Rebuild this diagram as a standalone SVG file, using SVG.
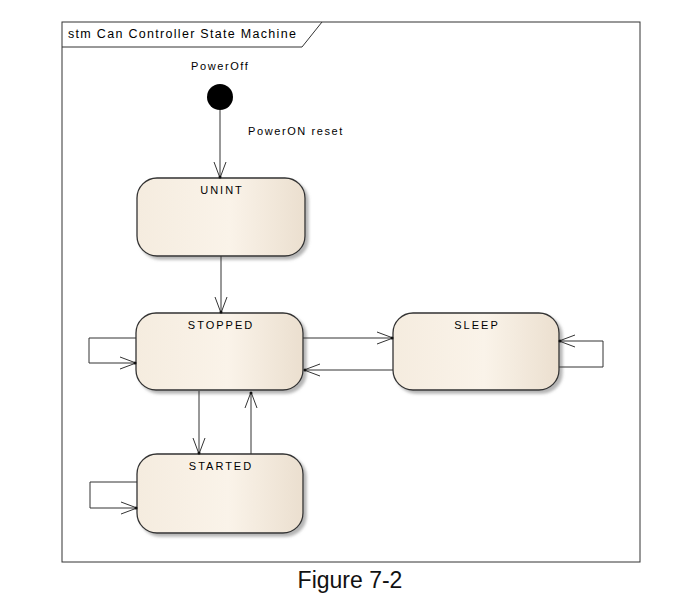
<svg xmlns="http://www.w3.org/2000/svg" width="697" height="606" viewBox="0 0 697 606">
<style>
.frame{fill:none;stroke:#333;stroke-width:1}
.state{fill:url(#sg);stroke:#333;stroke-width:1.3;filter:url(#sh)}
.conn{fill:none;stroke:#333;stroke-width:1}
.sn{font-family:"Liberation Sans",Arial,sans-serif;font-size:11px;letter-spacing:2px;fill:#000;text-anchor:middle}
.lbl{font-family:"Liberation Sans",Arial,sans-serif;font-size:11px;letter-spacing:1.6px;fill:#000}
.title{font-family:"Liberation Sans",Arial,sans-serif;font-size:12.5px;letter-spacing:1.3px;fill:#000}
.cap{font-family:"Liberation Sans",Arial,sans-serif;font-size:23px;fill:#111;text-anchor:middle}
</style>
<defs>
<linearGradient id="sg" x1="0" y1="0" x2="1" y2="0">
<stop offset="0" stop-color="#f5ecdf"/>
<stop offset="0.55" stop-color="#faf3e9"/>
<stop offset="1" stop-color="#ebdfcf"/>
</linearGradient>
<filter id="sh" x="-10%" y="-10%" width="125%" height="130%">
<feDropShadow dx="3" dy="3" stdDeviation="1.5" flood-color="#777" flood-opacity="0.55"/>
</filter>
<marker id="ah" markerUnits="userSpaceOnUse" markerWidth="20" markerHeight="16" viewBox="-18 -8 20 16" refX="0" refY="0" orient="auto">
<path d="M-16,-6 L0,0 L-16,6" fill="none" stroke="#333" stroke-width="1"/>
<circle cx="-1" cy="0" r="1.5" fill="#111"/>
</marker>
</defs>
<rect width="697" height="606" fill="#fff"/>
<g id="frame">
<rect class="frame" x="62" y="22" width="578" height="540"/>
<path class="frame" d="M62,47 H302 L322,22"/>
<text class="title" x="68" y="38">stm Can Controller State Machine</text>
</g>
<g id="initial">
<text class="lbl" x="191" y="70">PowerOff</text>
<circle cx="220" cy="97" r="13" fill="#000"/>
</g>
<g id="UNINT">
<rect class="state" x="137" y="178" width="168" height="78" rx="20" ry="20"/>
<text class="sn" x="222" y="194">UNINT</text>
</g>
<g id="STOPPED">
<rect class="state" x="136" y="313" width="167" height="77" rx="20" ry="20"/>
<text class="sn" x="221" y="329">STOPPED</text>
</g>
<g id="SLEEP">
<rect class="state" x="393" y="313" width="166" height="77" rx="20" ry="20"/>
<text class="sn" x="477" y="329">SLEEP</text>
</g>
<g id="STARTED">
<rect class="state" x="137" y="454" width="166" height="79" rx="20" ry="20"/>
<text class="sn" x="221" y="470">STARTED</text>
</g>
<g id="connectors">
<path class="conn" d="M220,110 V178" marker-end="url(#ah)"/>
<text class="lbl" x="248" y="135">PowerON reset</text>
<path class="conn" d="M221,256 V313" marker-end="url(#ah)"/>
<path class="conn" d="M136,338 H89 V363 H136" marker-end="url(#ah)"/>
<path class="conn" d="M303,338 H393" marker-end="url(#ah)"/>
<path class="conn" d="M393,370 H304" marker-end="url(#ah)"/>
<path class="conn" d="M559,367 H603 V341 H559" marker-end="url(#ah)"/>
<path class="conn" d="M199,391 V454" marker-end="url(#ah)"/>
<path class="conn" d="M251,454 V392" marker-end="url(#ah)"/>
<path class="conn" d="M137,482 H90 V508 H137" marker-end="url(#ah)"/>
</g>
<text class="cap" x="350" y="588">Figure 7-2</text>
</svg>
